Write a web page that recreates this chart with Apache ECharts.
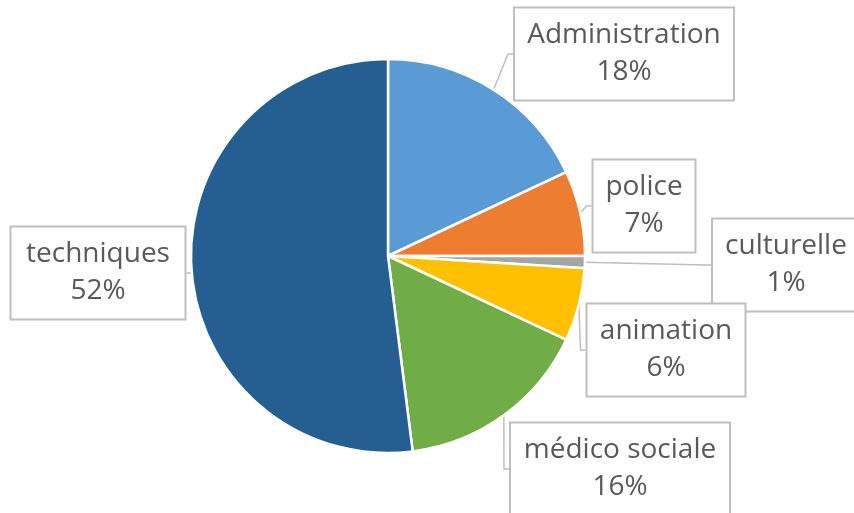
<!DOCTYPE html>
<html>
<head>
<meta charset="utf-8">
<script src="https://cdn.jsdelivr.net/npm/echarts@6/dist/echarts.min.js"></script>
<style>
html,body{margin:0;padding:0;background:#fff;}
#chart{width:854px;height:513px;}
</style>
</head>
<body>
<div id="chart"></div>
<script>
// Data
const categories = ['Administration', 'police', 'culturelle', 'animation', 'médico sociale', 'techniques'];
const values = [18, 7, 1, 6, 16, 52];
const colors = ['#5B9BD5', '#ED7D31', '#A5A5A5', '#FFC000', '#70AD47', '#255E91'];

// Label box layout (center x, center y, box width)
const labelBoxes = [
  [624, 54, 218],
  [644, 206, 101],
  [786, 265, 146],
  [666, 350, 157],
  [620, 469, 218],
  [98, 273, 173]
];

const chart = echarts.init(document.getElementById('chart'));

const data = categories.map((name, i) => ({
  name: name,
  value: values[i],
  itemStyle: { color: colors[i] },
  label: {
    width: labelBoxes[i][2] - 4
  }
}));

chart.setOption({
  backgroundColor: '#ffffff',
  animation: false,
  series: [{
    type: 'pie',
    center: [388, 256],
    radius: 197,
    startAngle: 90,
    clockwise: true,
    avoidLabelOverlap: false,
    data: data,
    itemStyle: { borderColor: '#ffffff', borderWidth: 2.5 },
    label: {
      show: true,
      formatter: p => p.name + '\n' + Math.round(p.percent) + '%',
      fontFamily: 'Open Sans',
      fontSize: 28,
      lineHeight: 37,
      color: '#595959',
      align: 'center',
      padding: [17, 2, 0, 2],
      backgroundColor: '#ffffff',
      borderColor: '#BFBFBF',
      borderWidth: 2
    },
    labelLine: {
      show: true,
      length: 5,
      length2: 5,
      lineStyle: { color: '#BFBFBF', width: 1.5 }
    },
    labelLayout: function (params) {
      const b = labelBoxes[params.dataIndex];
      return {
        x: b[0],
        y: b[1],
        align: 'center',
        verticalAlign: 'middle'
      };
    }
  }]
});
</script>
</body>
</html>
